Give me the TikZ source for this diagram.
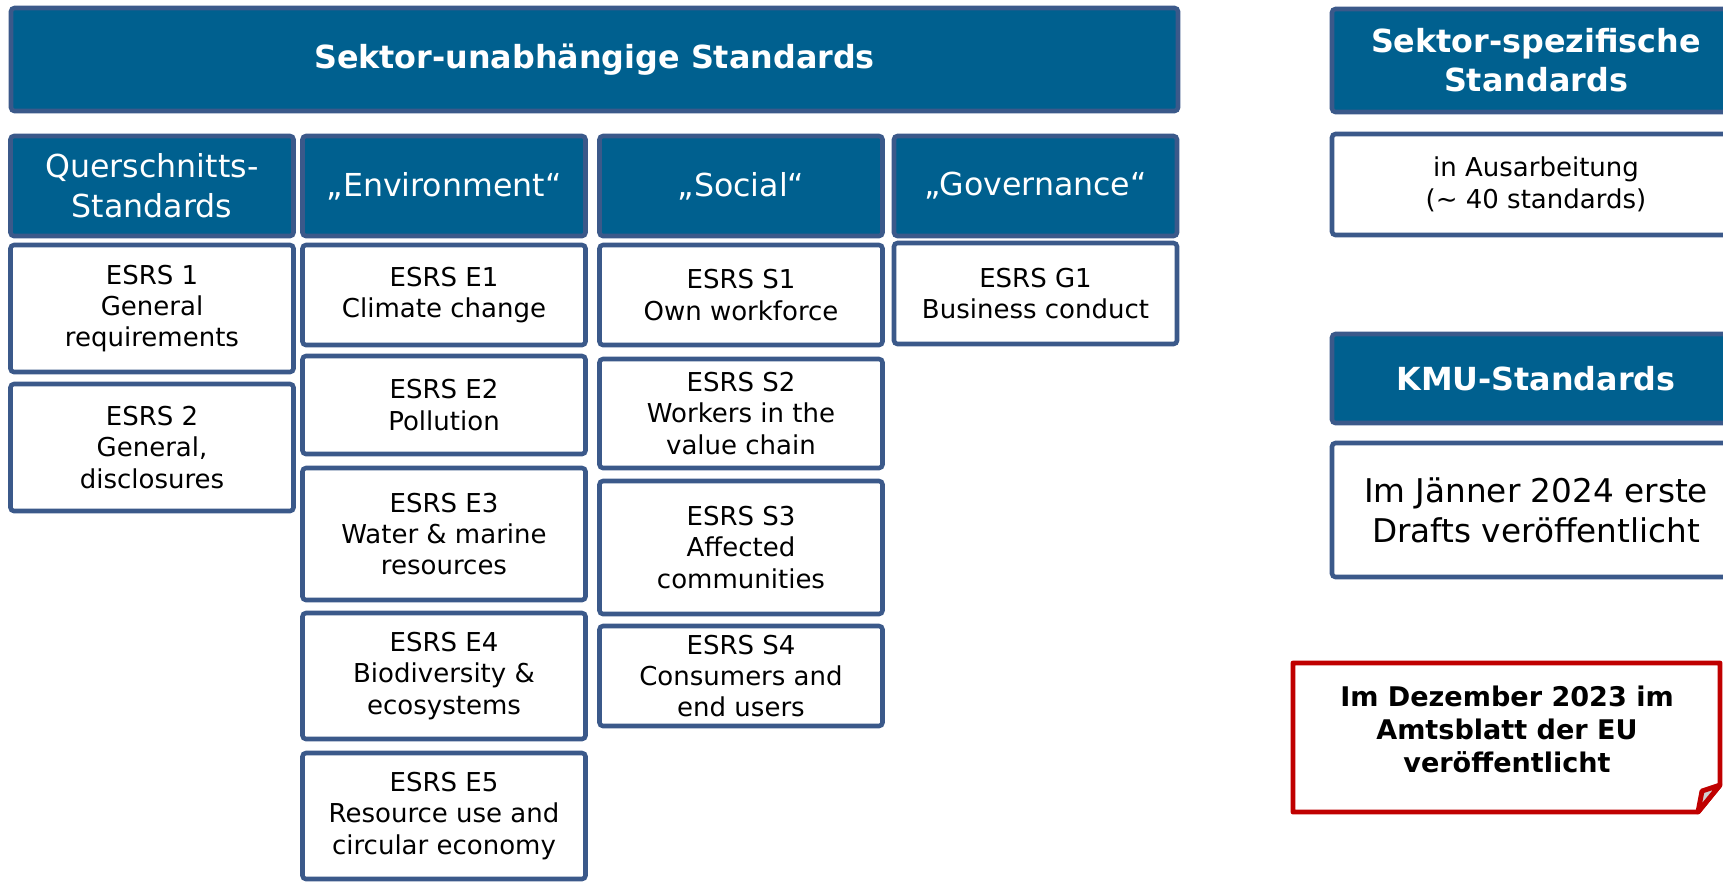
\documentclass[tikz,border=0pt]{standalone}
\usepackage{fontspec}
\setmainfont{DejaVu Sans}
\usetikzlibrary{positioning}
\definecolor{esrsblue}{RGB}{0,96,143}
\definecolor{esrsframe}{RGB}{59,89,138}
\definecolor{notered}{RGB}{192,0,0}
\definecolor{foldgrey}{RGB}{208,208,208}

\begin{document}
\begin{tikzpicture}[
    box/.style={draw=esrsframe, line width=1.3pt, rounded corners=1pt, align=center, inner sep=0pt},
    headbox/.style={box, fill=esrsblue, text=white, font=\fontsize{9.05}{11.1}\selectfont\bfseries},
    pillar/.style={box, fill=esrsblue, text=white, minimum width=2.83cm, minimum height=1cm, font=\fontsize{9}{11.4}\selectfont},
    topic/.style={box, fill=white, minimum width=2.83cm, font=\fontsize{7.4}{8.9}\selectfont},
    sidebox/.style={box, fill=white, minimum width=4.08cm}
]
    % Frame
    \useasboundingbox (0,0) rectangle (17.23,-8.82);
    \clip (0,0) rectangle (17.23,-8.82);

    % Title bar
    \node[headbox, minimum width=11.67cm, minimum height=1.03cm] (sector) at (5.945,-0.595) {Sektor-unabhängige Standards};

    % Pillars
    \node[pillar] (cross) at (1.52,-1.86) {Querschnitts-\\Standards};
    \node[pillar] (env) at (4.44,-1.86) {„Environment“};
    \node[pillar] (soc) at (7.41,-1.86) {„Social“};
    \node[pillar] (gov) at (10.355,-1.86) {„Governance“};

    % Cross-cutting standards
    \node[topic, minimum height=1.27cm] (esrs1) at (1.52,-3.085) {ESRS 1\\General\\requirements};
    \node[topic, minimum height=1.27cm] (esrs2) at (1.52,-4.475) {ESRS 2\\General,\\disclosures};

    % Environment
    \node[topic, minimum height=1.00cm] (e1) at (4.44,-2.95) {ESRS E1\\Climate change};
    \node[topic, minimum height=0.98cm] (e2) at (4.44,-4.05) {ESRS E2\\Pollution};
    \node[topic, minimum height=1.32cm] (e3) at (4.44,-5.34) {ESRS E3\\Water \& marine\\resources};
    \node[topic, minimum height=1.26cm] (e4) at (4.44,-6.76) {ESRS E4\\Biodiversity \&\\ecosystems};
    \node[topic, minimum height=1.26cm] (e5) at (4.44,-8.16) {ESRS E5\\Resource use and\\circular economy};

    % Social
    \node[topic, minimum height=1.00cm] (s1) at (7.41,-2.95) {ESRS S1\\Own workforce};
    \node[topic, minimum height=1.09cm] (s2) at (7.41,-4.135) {ESRS S2\\Workers in the\\value chain};
    \node[topic, minimum height=1.33cm] (s3) at (7.41,-5.475) {ESRS S3\\Affected\\communities};
    \node[topic, minimum height=1.00cm] (s4) at (7.41,-6.76) {ESRS S4\\Consumers and\\end users};

    % Governance
    \node[topic, minimum height=1.01cm] (g1) at (10.355,-2.935) {ESRS G1\\Business conduct};

    % Right column
    \node[headbox, minimum width=4.08cm, minimum height=1.03cm] (sector2) at (15.36,-0.605) {Sektor-spezifische\\Standards};
    \node[sidebox, minimum height=1.01cm, font=\fontsize{7.4}{9}\selectfont] (draft) at (15.36,-1.845) {in Ausarbeitung\\(\textasciitilde\ 40 standards)};
    \node[headbox, minimum width=4.08cm, minimum height=0.89cm] (kmu) at (15.36,-3.785) {KMU-Standards};
    \node[sidebox, minimum height=1.34cm, font=\fontsize{9.3}{11.3}\selectfont] (kmudraft) at (15.36,-5.10) {Im Jänner 2024 erste\\Drafts veröffentlicht};

    % Note with folded corner
    \draw[notered, line width=1.4pt, fill=white, line join=round] (12.93,-6.63) -- (17.20,-6.63) -- (17.20,-7.85) -- (16.98,-8.12) -- (12.93,-8.12) -- cycle;
    \draw[notered, line width=1.4pt, fill=foldgrey, line join=round] (16.98,-8.12) -- (17.02,-7.91) -- (17.20,-7.85) -- cycle;
    \node[align=center, inner sep=0pt, anchor=north, font=\fontsize{7.7}{9.4}\selectfont\bfseries] (note) at (15.07,-6.85) {Im Dezember 2023 im\\Amtsblatt der EU\\veröffentlicht};
\end{tikzpicture}
\end{document}
